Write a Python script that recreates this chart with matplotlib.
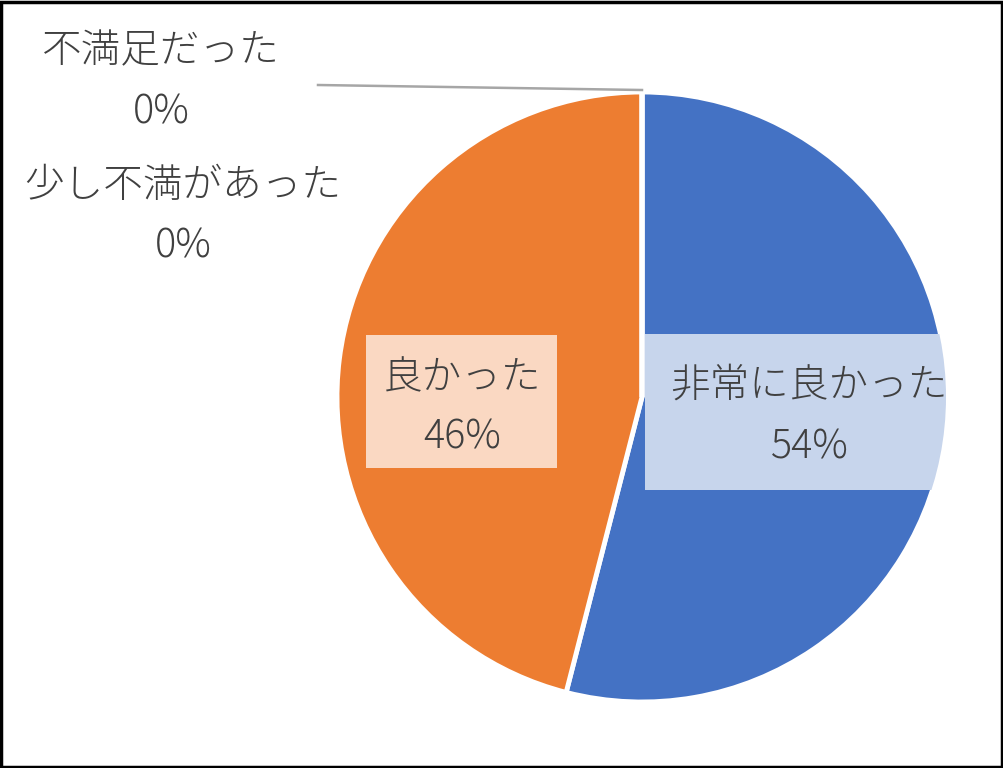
import matplotlib
matplotlib.use("Agg")
import matplotlib.pyplot as plt
from matplotlib.patches import Rectangle, Circle

plt.rcParams['font.family'] = ['Noto Sans CJK JP', 'DejaVu Sans']

categories = ['非常に良かった', '良かった', '少し不満があった', '不満足だった']
values = [54, 46, 0, 0]
colors = ['#4472C4', '#ED7D31', '#A5A5A5', '#FFC000']

W, H = 1004, 768
fig = plt.figure(figsize=(W / 100, H / 100), dpi=100)
ax = fig.add_axes([0, 0, 1, 1])
ax.set_xlim(0, W)
ax.set_ylim(0, H)
ax.set_aspect('equal')
ax.axis('off')

def Y(ypx):
    return H - ypx

total = sum(values)
pcts = [f"{round(v / total * 100)}%" for v in values]

cx, cy, R = 642, Y(397), 305
ax.pie(values, colors=colors, startangle=90, counterclock=False,
       center=(cx, cy), radius=R, frame=True,
       wedgeprops=dict(edgecolor='white', linewidth=3.5))
ax.set_xlim(0, W)
ax.set_ylim(0, H)
ax.axis('off')

txt = '#404040'
fs = 28.5

clip = Circle((cx, cy), R - 1, transform=ax.transData, facecolor='none', edgecolor='none')
ax.add_patch(clip)

# label boxes
rb = Rectangle((645, Y(490)), 320, 156, facecolor='#C7D5EC', edgecolor='none', zorder=3)
ax.add_patch(rb)
rb.set_clip_path(clip)
ro = Rectangle((366, Y(468)), 191, 133, facecolor='#FAD8C2', edgecolor='none', zorder=3)
ax.add_patch(ro)

kw = dict(ha='center', va='center', fontsize=fs, color=txt, fontweight='light')
ax.text(809, Y(386), categories[0], zorder=4, **kw)
ax.text(810, Y(448), pcts[0], zorder=4, **kw)
ax.text(462, Y(378), categories[1], zorder=4, **kw)
ax.text(462, Y(438), pcts[1], zorder=4, **kw)

ax.text(161, Y(51), categories[3], **kw)
ax.text(161, Y(112), pcts[3], **kw)
ax.text(183, Y(186), categories[2], **kw)
ax.text(183, Y(246), pcts[2], **kw)

# leader line
ax.plot([318, 642], [Y(85), Y(90)], color='#A6A6A6', linewidth=1.8, zorder=2)

# frame
ax.add_patch(Rectangle((1.5, 1.5), W - 3, H - 3, facecolor='none', edgecolor='black', linewidth=2.5, zorder=10))

fig.savefig('out.png', dpi=100)
